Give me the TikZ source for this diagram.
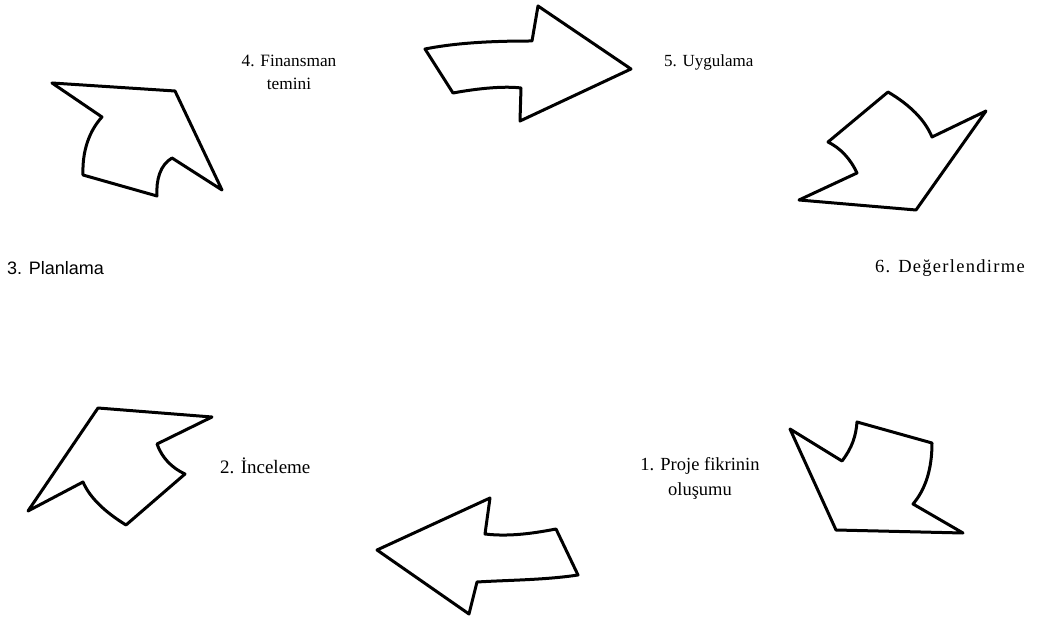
\documentclass[tikz,border=0pt]{standalone}
\usepackage{fontspec}
\setmainfont{Liberation Serif}
\newfontfamily\plfont{Liberation Sans}
\newfontfamily\widefont[LetterSpace=7]{Liberation Serif}
\begin{document}
\begin{tikzpicture}[x=1pt,y=-1pt,
  shp/.style={draw=black,line width=3pt,line join=round,fill=white},
  lbl/.style={font=\fontsize{17.3}{23}\selectfont,inner sep=0pt,align=center}]
\useasboundingbox (0,0) rectangle (1039,617);
% arrow shapes
\draw[shp] (52,83) -- (175,91) -- (222,190) -- (172,158)
  .. controls (160,165) and (156,180) .. (157,196) -- (83,175)
  .. controls (82,150) and (90,130) .. (102,117) -- cycle;
\draw[shp] (425,49) .. controls (460,42) and (500,41) .. (532,41) -- (538,6) -- (631,69)
  -- (520,121) -- (521,88) .. controls (505,86) and (480,88) .. (453,93) -- cycle;
\draw[shp] (888,92) .. controls (910,105) and (925,120) .. (932,137) -- (986,111)
  -- (916,210) -- (799,200) -- (857,173) .. controls (850,158) and (840,148) .. (828,142) -- cycle;
\draw[shp] (98,408) -- (212,417) -- (157,444) .. controls (162,458) and (172,468) .. (185,474)
  -- (126,525) .. controls (105,512) and (90,498) .. (83,482) -- (28,511) -- cycle;
\draw[shp] (377,550) -- (490,498) -- (485,534) .. controls (510,537) and (535,533) .. (556,529)
  -- (578,575) .. controls (545,580) and (510,580) .. (477,582) -- (469,614) -- cycle;
\draw[shp] (790,429) -- (842,461) .. controls (852,448) and (856,436) .. (857,422)
  -- (932,443) .. controls (932,470) and (925,490) .. (913,504) -- (963,533) -- (836,530) -- cycle;
% labels
\node[lbl] (t4) at (289,72) {4. Finansman\\temini};
\node[lbl,anchor=west,font=\fontsize{17}{20}\selectfont] (t5) at (664,62) {5. Uygulama};
\node[lbl,anchor=west,font=\widefont\fontsize{18.5}{21}\selectfont] (t6) at (875,268) {6. Değerlendirme};
\node[lbl,anchor=west,font=\plfont\fontsize{18}{21}\selectfont] (t3) at (7,268) {3. Planlama};
\node[lbl,anchor=west,font=\fontsize{19}{22}\selectfont] (t2) at (220,466) {2. İnceleme};
\node[lbl,font=\fontsize{18.5}{25}\selectfont] (t1) at (700,478) {1. Proje fikrinin\\oluşumu};
\end{tikzpicture}
\end{document}
